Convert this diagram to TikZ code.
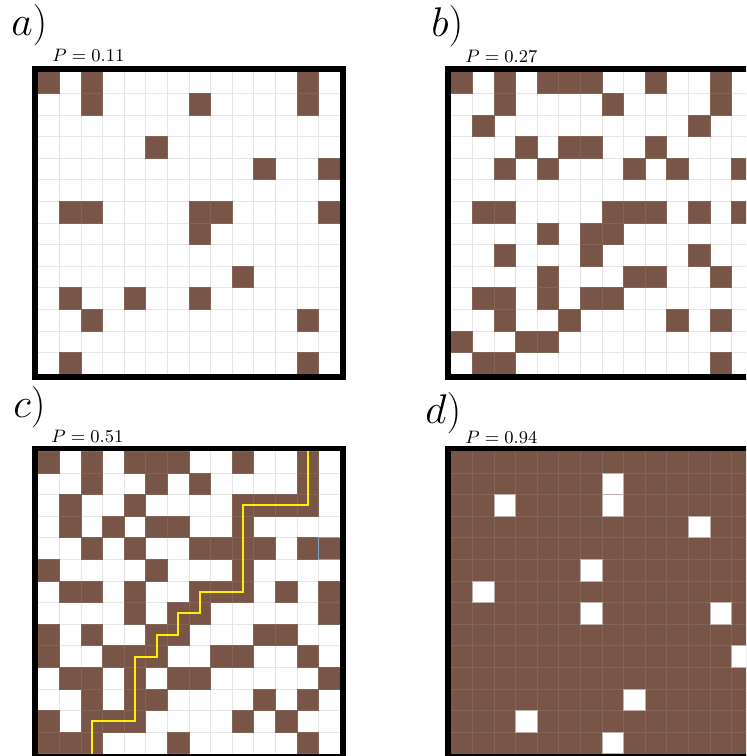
\documentclass[tikz,border=0pt]{standalone}
\usepackage{tikz}
\usepackage{xcolor}
\definecolor{soil}{HTML}{795548}
\definecolor{soilline}{HTML}{836459}
\definecolor{gridgray}{HTML}{E6E6E6}
\definecolor{pathyellow}{HTML}{FFEE00}
\definecolor{selblue}{HTML}{7FA3CC}
\tikzset{
  site/.style={fill=soil,draw=soilline,line width=.3pt},
  hole/.style={fill=white,draw=soilline!50!white,line width=.3pt},
  gridline/.style={draw=gridgray,line width=.4pt},
  panelframe/.style={draw=black,line width=2.7pt},
  panellabel/.style={anchor=base west,inner sep=0pt,font=\fontsize{20}{24}\selectfont},
  problabel/.style={anchor=base west,inner sep=0pt,font=\fontsize{9}{11}\selectfont},
}

\begin{document}
\begin{tikzpicture}[x=.5pt,y=-.5pt]
        \clip (0,0) rectangle (746,756);
        % a) P = 0.11
        \begin{scope}[shift={(37.7,71.7)},x=10.8pt,y=-10.8pt]
          \foreach \i in {1,...,13} {\draw[gridline] (\i,0) -- (\i,14); \draw[gridline] (0,\i) -- (14,\i);}
          \foreach \r/\cols in {0/{0,2,12},1/{2,7,12},3/{5},4/{10,13},6/{1,2,7,8,13},7/{7},
              9/{9},10/{1,4,7},11/{2,12},13/{1,12}}
            \foreach \c in \cols \path[site] (\c,\r) rectangle ++(1,1);
          \draw[panelframe] (-.125,-.125) rectangle (14.125,14.125);
        \end{scope}
        % b) P = 0.27
        \begin{scope}[shift={(450.7,71.7)},x=10.8pt,y=-10.8pt]
          \foreach \i in {1,...,13} {\draw[gridline] (\i,0) -- (\i,14); \draw[gridline] (0,\i) -- (14,\i);}
          \foreach \r/\cols in {0/{0,2,4,5,6,9,12},1/{2,7,12},2/{1,11},3/{3,5,6,9},4/{2,4,8,10,13},
              6/{1,2,7,8,9,11,13},7/{4,6,7},8/{2,6,11},9/{4,8,9,12},10/{1,2,4,6,7},
              11/{2,5,10,12},12/{0,3,4},13/{1,2,12}}
            \foreach \c in \cols \path[site] (\c,\r) rectangle ++(1,1);
          \draw[panelframe] (-.125,-.125) rectangle (14.125,14.125);
        \end{scope}
        % c) P = 0.51
        \begin{scope}[shift={(37.7,451.3)},x=10.8pt,y=-10.8pt]
          \foreach \i in {1,...,13} {\draw[gridline] (\i,0) -- (\i,14); \draw[gridline] (0,\i) -- (14,\i);}
          \foreach \r/\cols in {0/{0,2,4,5,6,9,12},1/{2,5,7,12},2/{1,4,9,10,11,12},3/{1,3,5,6,9},
              4/{2,4,7,8,9,10,12,13},5/{0,5,9},6/{1,2,4,7,8,9,11,13},7/{4,6,7,13},
              8/{0,2,5,6,10,11},9/{0,3,4,5,8,9,12},10/{1,2,4,6,7,13},11/{2,4,5,10,12},
              12/{0,2,3,4,9,11},13/{0,1,2,6,12}}
            \foreach \c in \cols \path[site] (\c,\r) rectangle ++(1,1);
          \draw[selblue,line width=.5pt] (13,4) rectangle (14,5);
          \draw[pathyellow,line width=1pt] (2.5,14) |- (4.5,12.5) |- (5.5,9.5) |- (6.5,8.5)
            |- (7.5,7.5) |- (9.5,6.5) |- (12.5,2.5) -- (12.5,0);
          \draw[panelframe] (-.125,-.125) rectangle (14.125,14.125);
        \end{scope}
        % d) P = 0.94
        \begin{scope}[shift={(450.7,451.3)},x=10.8pt,y=-10.8pt]
          \fill[soil] (0,0) rectangle (14,14);
          \foreach \i in {1,...,13} {\draw[soilline,line width=.4pt] (\i,0) -- (\i,14); \draw[soilline,line width=.4pt] (0,\i) -- (14,\i);}
          \foreach \r/\c in {1/7,2/2,2/7,3/11,5/6,6/1,7/6,7/12,9/13,11/8,12/3,13/7}
            \path[hole] (\c,\r) rectangle ++(1,1);
          \draw[panelframe] (-.125,-.125) rectangle (14.125,14.125);
        \end{scope}
        \node[panellabel] (labA) at (11,35) {$a)$};
        \node[problabel] (probA) at (52,61.5) {$P = 0.11$};
        \node[panellabel] (labB) at (431,36) {$b)$};
        \node[problabel] (probB) at (465,62) {$P = 0.27$};
        \node[panellabel] (labC) at (13,417) {$c)$};
        \node[problabel] (probC) at (51,442.5) {$P = 0.51$};
        \node[panellabel] (labD) at (425,423) {$d)$};
        \node[problabel] (probD) at (465,443) {$P = 0.94$};
      \end{tikzpicture}
\end{document}
